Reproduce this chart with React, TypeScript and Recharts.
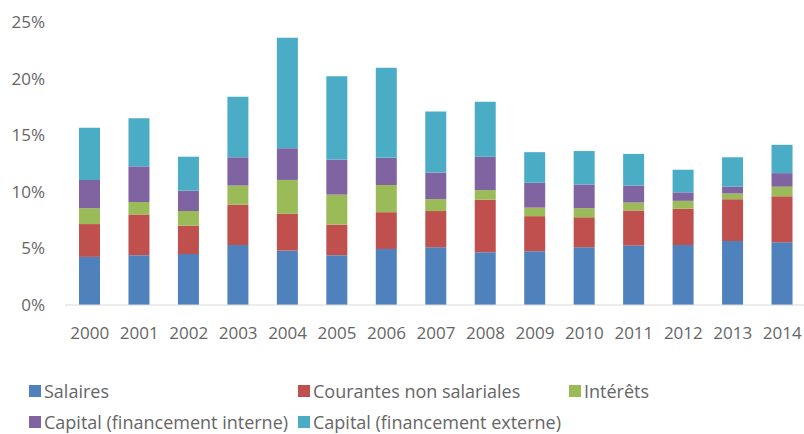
import React from 'react';
import { BarChart, Bar, XAxis, YAxis } from 'recharts';

const years = ['2000', '2001', '2002', '2003', '2004', '2005', '2006', '2007', '2008', '2009', '2010', '2011', '2012', '2013', '2014'];
const salaires = [4.25, 4.4, 4.5, 5.3, 4.8, 4.4, 4.95, 5.1, 4.65, 4.75, 5.1, 5.25, 5.3, 5.65, 5.55];
const courantes = [2.9, 3.6, 2.5, 3.55, 3.25, 2.7, 3.25, 3.2, 4.65, 3.1, 2.65, 3.1, 3.2, 3.7, 4.05];
const interets = [1.4, 1.1, 1.3, 1.7, 3.0, 2.65, 2.4, 1.05, 0.85, 0.75, 0.8, 0.7, 0.7, 0.5, 0.85];
const capInterne = [2.5, 3.15, 1.8, 2.5, 2.8, 3.1, 2.4, 2.35, 2.95, 2.2, 2.1, 1.5, 0.75, 0.6, 1.2];
const capExterne = [4.6, 4.25, 3.0, 5.35, 9.75, 7.35, 7.95, 5.4, 4.85, 2.7, 2.95, 2.8, 2.0, 2.6, 2.5];
const yTicks = [0, 5, 10, 15, 20, 25];

const series = [
  { key: 'salaires', name: 'Salaires', color: '#4F81BD' },
  { key: 'courantes', name: 'Courantes non salariales', color: '#C0504D' },
  { key: 'interets', name: 'Intérêts', color: '#9BBB59' },
  { key: 'capInterne', name: 'Capital (financement interne)', color: '#8064A2' },
  { key: 'capExterne', name: 'Capital (financement externe)', color: '#4BACC6' },
];

const data = years.map((year, i) => ({
  year,
  salaires: salaires[i],
  courantes: courantes[i],
  interets: interets[i],
  capInterne: capInterne[i],
  capExterne: capExterne[i],
}));

const FONT = '"Open Sans", sans-serif';
const TEXT = '#666666';

// legend slots laid out like the Excel legend: 3 columns, 2 rows
const legendPos = [
  { x: 29, y: 391 },
  { x: 298, y: 391 },
  { x: 569, y: 391 },
  { x: 29, y: 422 },
  { x: 298, y: 422 },
];

const App: React.FC = () => {
  return (
    <div style={{ position: 'absolute', left: 0, top: 0, width: 804, height: 434, background: '#fff', overflow: 'hidden' }}>
      <BarChart
        width={804}
        height={434}
        data={data}
        margin={{ top: 22, right: -3, left: 0, bottom: 99 }}
        barCategoryGap={0}
      >
        <XAxis
          dataKey="year"
          height={30}
          tickLine={false}
          axisLine={{ stroke: '#D9D9D9' }}
          tickSize={0}
          tickMargin={22}
          interval={0}
          tick={{ fill: TEXT, fontSize: 17, fontFamily: FONT }}
        />
        <YAxis
          width={65}
          domain={[0, 25]}
          ticks={yTicks}
          axisLine={false}
          tickLine={false}
          tickSize={0}
          tickMargin={20}
          tickFormatter={(v: number) => `${v}%`}
          tick={{ fill: TEXT, fontSize: 17, fontFamily: FONT }}
        />
        {series.map(s => (
          <Bar
            key={s.key}
            dataKey={s.key}
            name={s.name}
            stackId="a"
            fill={s.color}
            barSize={21}
            isAnimationActive={false}
          />
        ))}
      </BarChart>
      {series.map((s, i) => (
        <div
          key={s.key}
          style={{
            position: 'absolute',
            left: legendPos[i].x,
            top: legendPos[i].y - 10,
            height: 20,
            lineHeight: '20px',
            display: 'flex',
            alignItems: 'center',
            fontFamily: FONT,
            fontSize: 18,
            color: TEXT,
            whiteSpace: 'nowrap',
          }}
        >
          <span style={{ display: 'inline-block', width: 12, height: 12, background: s.color, marginRight: 3 }} />
          {s.name}
        </div>
      ))}
    </div>
  );
};

export default App;
